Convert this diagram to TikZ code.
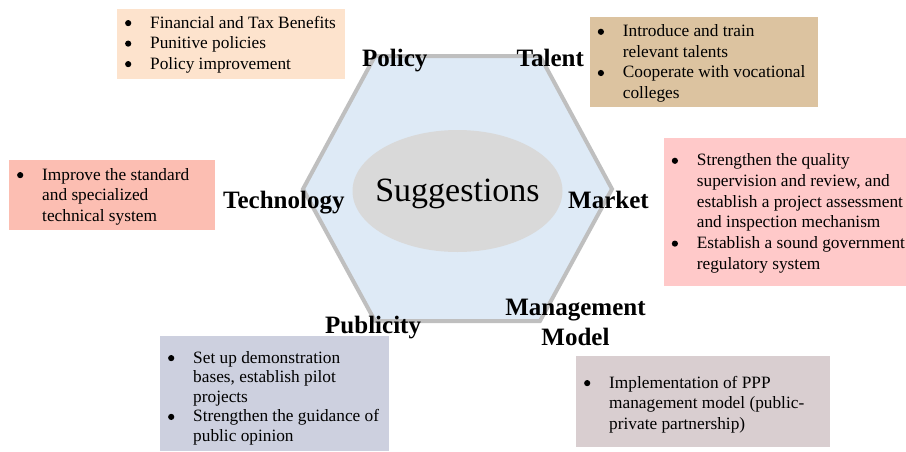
\documentclass[tikz,border=0pt]{standalone}
\usepackage{fontspec}
\setmainfont{Liberation Serif}
\usetikzlibrary{shapes.geometric}
\definecolor{hexfill}{HTML}{DEEAF6}
\definecolor{hexline}{HTML}{BFBFBF}
\definecolor{ellfill}{HTML}{D9D9D9}
\definecolor{cPolicy}{HTML}{FDE3CD}
\definecolor{cTalent}{HTML}{DCC3A0}
\definecolor{cMarket}{HTML}{FFC9C9}
\definecolor{cTech}{HTML}{FCBEB2}
\definecolor{cPub}{HTML}{CDD0DF}
\definecolor{cMgmt}{HTML}{D9CED0}
\newcommand\bul{\llap{\makebox[44pt][c]{\raisebox{1.8pt}{\tikz[x=1pt,y=1pt]\fill (0,0) circle (3.1pt);}}}}
\tikzset{
  boxbg/.style={rectangle, inner sep=0pt, draw=none, anchor=north west},
  btext/.style={inner sep=0pt, anchor=base west, font=\fontsize{17.3}{20.6}\selectfont},
  hexlabel/.style={inner sep=0pt, anchor=base west, font=\fontsize{25}{30}\selectfont\bfseries},
}
\begin{document}
\begin{tikzpicture}[x=1pt,y=-1pt]
\useasboundingbox (0,0) rectangle (906,451);
% hexagon
\coordinate (h1) at (375,56);
\coordinate (h2) at (540,56);
\coordinate (h3) at (612,189);
\coordinate (h4) at (540,321);
\coordinate (h5) at (375,321);
\coordinate (h6) at (303,189);
\draw[draw=hexline, fill=hexfill, line width=4pt, line join=miter] (h1) -- (h2) -- (h3) -- (h4) -- (h5) -- (h6) -- cycle;
\node[ellipse, fill=ellfill, draw=none, minimum width=210pt, minimum height=122pt, inner sep=0pt] (ell) at (457.5,191) {};
\node[inner sep=0pt, anchor=base, font=\fontsize{34}{40}\selectfont] (sugg) at (457.5,201.5) {Suggestions};
% labels
\node[hexlabel] (lPolicy) at (362,66) {Policy};
\node[hexlabel] (lTalent) at (516.5,66) {Talent};
\node[hexlabel] (lTech) at (223,208.3) {Technology};
\node[hexlabel] (lMarket) at (568,208.3) {Market};
\node[hexlabel] (lPub) at (325,333.3) {Publicity};
\node[hexlabel, anchor=base] (lMgmt) at (575.5,315) {\begin{tabular}[t]{@{}c@{}}Management\\Model\end{tabular}};
% boxes
\node[boxbg, fill=cPolicy, minimum width=228pt, minimum height=70pt] (bPolicy) at (117,9) {};
\node[boxbg, fill=cTalent, minimum width=228pt, minimum height=90pt] (bTalent) at (590,17) {};
\node[boxbg, fill=cMarket, minimum width=242pt, minimum height=148pt] (bMarket) at (664,138) {};
\node[boxbg, fill=cTech, minimum width=206pt, minimum height=70pt] (bTech) at (9,160) {};
\node[boxbg, fill=cPub, minimum width=229pt, minimum height=115pt] (bPub) at (160,336) {};
\node[boxbg, fill=cMgmt, minimum width=254pt, minimum height=91pt] (bMgmt) at (576,356) {};
% texts
\node[btext, font=\fontsize{17.3}{20.5}\selectfont] (tPolicy) at (150,28) {\begin{tabular}[t]{@{}l@{}}\bul Financial and Tax Benefits\\\bul Punitive policies\\\bul Policy improvement\end{tabular}};
\node[btext] (tTalent) at (622.7,36.7) {\begin{tabular}[t]{@{}l@{}}\bul Introduce and train\\relevant talents\\\bul Cooperate with vocational\\colleges\end{tabular}};
\node[btext, font=\fontsize{17.3}{20.7}\selectfont] (tMarket) at (696.7,165.7) {\begin{tabular}[t]{@{}l@{}}\bul Strengthen the quality\\supervision and review, and\\establish a project assessment\\and inspection mechanism\\\bul Establish a sound government\\regulatory system\end{tabular}};
\node[btext, font=\fontsize{17.3}{20.5}\selectfont] (tTech) at (42,180) {\begin{tabular}[t]{@{}l@{}}\bul Improve the standard\\and specialized\\technical system\end{tabular}};
\node[btext, font=\fontsize{17.3}{19.6}\selectfont] (tPub) at (193,363) {\begin{tabular}[t]{@{}l@{}}\bul Set up demonstration\\bases, establish pilot\\projects\\\bul Strengthen the guidance of\\public opinion\end{tabular}};
\node[btext, font=\fontsize{17.3}{20.5}\selectfont] (tMgmt) at (609,388) {\begin{tabular}[t]{@{}l@{}}\bul Implementation of PPP\\management model (public-\\private partnership)\end{tabular}};
\end{tikzpicture}
\end{document}
